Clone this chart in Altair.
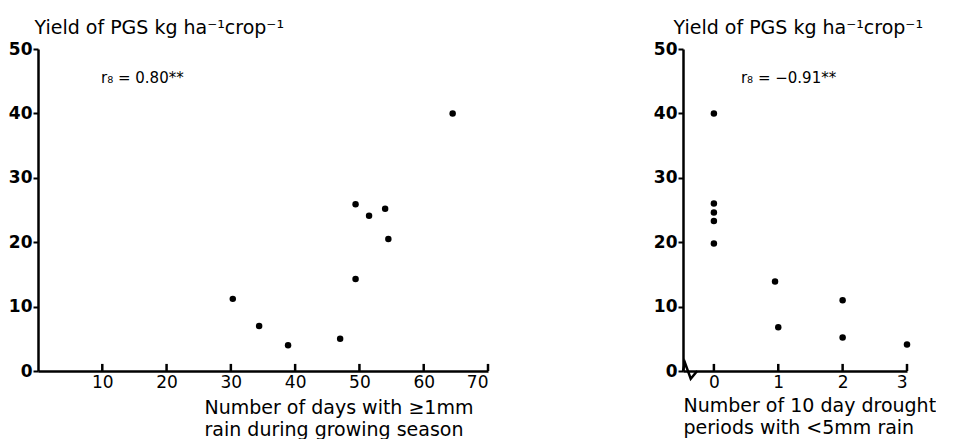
import altair as alt
import pandas as pd

# ---- data ----
days = [30.3, 34.4, 38.9, 47.0, 49.4, 49.4, 51.5, 54.0, 54.5, 64.5]
yield_days = [11.2, 7.0, 4.0, 5.0, 14.3, 25.9, 24.1, 25.2, 20.5, 40.0]

periods = [0, 0, 0, 0, 0, 0.95, 1.0, 2.0, 2.0, 3.0]
yield_periods = [40.0, 26.0, 24.6, 23.3, 19.8, 13.9, 6.8, 11.0, 5.2, 4.1]

left_xticks = [10, 20, 30, 40, 50, 60, 70]
right_xticks = [0, 1, 2, 3]
y_ticks = [0, 10, 20, 30, 40, 50]
tick_len = [1.1]  # inward x tick length, in yield units

y_title = "Yield of PGS kg ha\u207b\u00b9crop\u207b\u00b9"
left_x_title = ["Number of days with \u22651mm", "rain during growing season"]
right_x_title = ["Number of 10 day drought", "periods with <5mm rain"]

left_note = ["r\u2088 = 0.80**"]
left_note_x = [9.8]
left_note_y = [45.5]
right_note = ["r\u2088 = \u22120.91**"]
right_note_x = [0.42]
right_note_y = [45.5]

# axis-break squiggle on the right x axis (data units)
break_x = [-0.48, -0.45, -0.36, -0.26]
break_y = [0.0, 1.3, -1.2, 0.0]

FONT = "DejaVu Sans"
H = 322


def yaxis(title_x):
    return alt.Axis(values=y_ticks, title=y_title, titleAngle=0, titleAlign="left",
                    titleBaseline="alphabetic", titleX=title_x, titleY=-16,
                    titleFontSize=19, titleFontWeight="normal", titleFont=FONT,
                    labelFont=FONT, labelFontSize=17, labelFontWeight="bold",
                    labelPadding=1, tickSize=5, tickWidth=2, tickColor="black",
                    domainWidth=2.5, domainColor="black", labelColor="black",
                    titleColor="black", grid=False)


def xaxis(values, title, title_x, title_y):
    return alt.Axis(values=values, title=title, titleAngle=0, titleAlign="left",
                    titleBaseline="alphabetic", titleX=title_x, titleY=title_y,
                    titleFontSize=19, titleFontWeight="normal", titleFont=FONT,
                    titleLineHeight=22, labelFont=FONT, labelFontSize=17,
                    labelFontWeight="normal", labelPadding=3, ticks=False,
                    domainWidth=2.5, domainColor="black", labelColor="black",
                    titleColor="black", grid=False, format="d")


def panel(xv, yv, xdom, xticks, xtitle, xtitle_x, xtitle_y, ytitle_x, width,
          note, nx, ny, extra=None):
    df = pd.DataFrame({"x": xv, "y": yv})
    xs = alt.Scale(domain=xdom, nice=False, zero=False)
    ys = alt.Scale(domain=[0, 50], nice=False)
    pts = alt.Chart(df).mark_circle(size=42, color="black", opacity=1).encode(
        x=alt.X("x:Q", scale=xs, axis=xaxis(xticks, xtitle, xtitle_x, xtitle_y)),
        y=alt.Y("y:Q", scale=ys, axis=yaxis(ytitle_x)),
    )
    tdf = pd.DataFrame({"t": [float(v) for v in xticks],
                        "y0": [0.0] * len(xticks),
                        "y1": tick_len * len(xticks)})
    ticks = alt.Chart(tdf).mark_rule(color="black", strokeWidth=2.5, clip=False).encode(
        x=alt.X("t:Q"),
        y=alt.Y("y0:Q"),
        y2=alt.Y2("y1:Q"),
    )
    ndf = pd.DataFrame({"label": note, "x": nx, "y": ny})
    txt = alt.Chart(ndf).mark_text(align="left", baseline="middle", font=FONT,
                                   fontSize=15, color="black").encode(
        x=alt.X("x:Q"), y=alt.Y("y:Q"), text="label:N")
    layers = [pts, ticks, txt]
    if extra is not None:
        layers.append(extra())
    return alt.layer(*layers).properties(width=width, height=H)


def squiggle():
    bdf = pd.DataFrame({"x": break_x, "y": break_y, "o": list(range(len(break_x)))})
    return alt.Chart(bdf).mark_line(color="black", strokeWidth=2.5,
                                    clip=False).encode(
        x=alt.X("x:Q"), y=alt.Y("y:Q"), order="o:Q")


left = panel(days, yield_days, [0, 70], left_xticks, left_x_title, 166, 42, -4, 450,
             left_note, left_note_x, left_note_y)
right = panel(periods, yield_periods, [-0.48, 3], right_xticks, right_x_title, 0, 40, -10, 224,
              right_note, right_note_x, right_note_y, extra=squiggle)

chart = alt.hconcat(left, right, spacing=195, bounds="flush").properties(
    padding={"left": 0, "top": 10, "right": 0, "bottom": 0}
).configure(background="white").configure_view(strokeWidth=0)

chart.save("out.html", embed_options={"renderer": "svg", "actions": False})
